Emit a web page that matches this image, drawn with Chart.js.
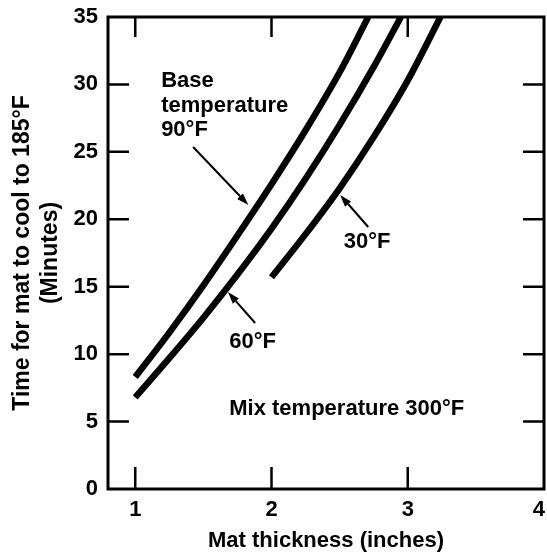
<!DOCTYPE html>
<html>
<head>
<meta charset="utf-8">
<script src="https://cdn.jsdelivr.net/npm/chart.js@4.4.1/dist/chart.umd.min.js"></script>
<style>
  html, body { margin: 0; padding: 0; background: #ffffff; }
  #wrap { width: 547px; height: 560px; position: relative; }
</style>
</head>
<body>
<div id="wrap"><canvas id="chart"></canvas></div>
<script>
// Axis tick values
const thicknessTicks = [1, 2, 3, 4];
const minuteTicks = [0, 5, 10, 15, 20, 25, 30, 35];

// Cooling time curves for a 300°F mix, one per base temperature
const base90Thickness = [1.0, 1.25, 1.5, 1.75, 2.0, 2.25, 2.5, 2.71];
const base90Minutes   = [8.3, 11.6, 15.1, 18.8, 22.6, 26.6, 30.9, 35.0];

const base60Thickness = [1.0, 1.25, 1.5, 1.75, 2.0, 2.25, 2.5, 2.75, 2.95];
const base60Minutes   = [6.8, 9.7, 12.7, 15.9, 19.3, 23.0, 27.0, 31.3, 35.0];

const base30Thickness = [2.0, 2.25, 2.5, 2.75, 3.0, 3.24];
const base30Minutes   = [15.7, 18.9, 22.3, 26.1, 30.3, 35.0];

const FAMILY = '"Liberation Sans", Arial, sans-serif';
const FONT = { family: FAMILY, size: 22, weight: 'bold' };
const TITLE_FONT = { family: FAMILY, size: 23, weight: 'bold' };
const INK = '#000000';

function pairs(xs, ys) {
  return xs.map((x, i) => ({ x: x, y: ys[i] }));
}

function curve(xs, ys) {
  return {
    data: pairs(xs, ys),
    borderColor: INK,
    borderWidth: 6.5,
    borderCapStyle: 'butt',
    pointRadius: 0,
    cubicInterpolationMode: 'monotone',
    fill: false
  };
}

// Text labels and pointer arrows, anchored in data units
const notes = [
  { lines: ['Base', 'temperature', '90°F'], at: [1.19, 29.8] },
  { lines: ['30°F'], at: [2.53, 17.87] },
  { lines: ['60°F'], at: [1.69, 10.46] },
  { lines: ['Mix temperature 300°F'], at: [1.69, 5.49] }
];
const arrows = [
  { from: [1.425, 25.36], to: [1.83, 21.06] },
  { from: [2.71, 19.43], to: [2.504, 21.8] },
  { from: [1.88, 12.31], to: [1.68, 14.6] }
];

const framePlugin = {
  id: 'frameAndNotes',
  beforeDraw(chart) {
    // keep the last thickness label inside the canvas
    const items = chart.scales.x.getLabelItems(chart.chartArea);
    const last = items[items.length - 1];
    if (last) {
      last.options.textAlign = 'right';
      last.options.translation[0] += 1;
    }
  },
  afterDatasetsDraw(chart) {
    const { ctx, chartArea: a, scales: { x, y } } = chart;
    ctx.save();
    ctx.strokeStyle = INK;
    ctx.fillStyle = INK;

    // plot frame
    ctx.lineWidth = 3;
    ctx.strokeRect(a.left, a.top, a.right - a.left, a.bottom - a.top);

    // inward tick marks on all four sides
    ctx.lineWidth = 2.5;
    ctx.beginPath();
    minuteTicks.filter(v => v > y.min && v < y.max).forEach(v => {
      const py = y.getPixelForValue(v);
      ctx.moveTo(a.left, py); ctx.lineTo(a.left + 21, py);
      ctx.moveTo(a.right - 21, py); ctx.lineTo(a.right, py);
    });
    thicknessTicks.filter(v => v > x.min && v < x.max).forEach(v => {
      const px = x.getPixelForValue(v);
      ctx.moveTo(px, a.top); ctx.lineTo(px, a.top + 20);
      ctx.moveTo(px, a.bottom - 22); ctx.lineTo(px, a.bottom);
    });
    ctx.stroke();

    // labels
    ctx.font = `${FONT.weight} ${FONT.size}px ${FONT.family}`;
    ctx.textAlign = 'left';
    ctx.textBaseline = 'alphabetic';
    notes.forEach(n => {
      const px = x.getPixelForValue(n.at[0]);
      const py = y.getPixelForValue(n.at[1]);
      n.lines.forEach((t, i) => ctx.fillText(t, px, py + i * 24.5));
    });

    // arrows
    arrows.forEach(ar => {
      const x0 = x.getPixelForValue(ar.from[0]), y0 = y.getPixelForValue(ar.from[1]);
      const x1 = x.getPixelForValue(ar.to[0]),   y1 = y.getPixelForValue(ar.to[1]);
      const ang = Math.atan2(y1 - y0, x1 - x0);
      const head = 12, half = 4;
      const bx = x1 - head * Math.cos(ang), by = y1 - head * Math.sin(ang);
      ctx.lineWidth = 2;
      ctx.beginPath();
      ctx.moveTo(x0, y0); ctx.lineTo(bx, by);
      ctx.stroke();
      ctx.beginPath();
      ctx.moveTo(x1, y1);
      ctx.lineTo(bx + half * Math.sin(ang), by - half * Math.cos(ang));
      ctx.lineTo(bx - half * Math.sin(ang), by + half * Math.cos(ang));
      ctx.closePath();
      ctx.fill();
    });
    ctx.restore();
  }
};

new Chart(document.getElementById('chart'), {
  type: 'line',
  data: {
    datasets: [
      curve(base90Thickness, base90Minutes),
      curve(base60Thickness, base60Minutes),
      curve(base30Thickness, base30Minutes)
    ]
  },
  options: {
    responsive: true,
    maintainAspectRatio: false,
    animation: false,
    layout: { padding: { top: 17, right: 3, left: 0, bottom: 0 } },
    plugins: { legend: { display: false }, tooltip: { enabled: false } },
    scales: {
      x: {
        type: 'linear',
        min: 0.8,
        max: 4,
        afterBuildTicks: s => { s.ticks = thicknessTicks.map(v => ({ value: v })); },
        afterFit: s => { s.height = 71; s.paddingLeft = 0; s.paddingRight = 0; },
        grid: { display: false, drawTicks: false },
        border: { display: false },
        ticks: { font: FONT, color: INK, padding: 8, maxRotation: 0 },
        title: {
          display: true,
          text: 'Mat thickness (inches)',
          font: FONT,
          color: INK,
          padding: { top: 0, bottom: 6 }
        }
      },
      y: {
        type: 'linear',
        min: 0,
        max: 35,
        afterBuildTicks: s => { s.ticks = minuteTicks.map(v => ({ value: v })); },
        afterFit: s => { s.width = 108; s.paddingTop = 0; s.paddingBottom = 0; },
        grid: { display: false, drawTicks: false },
        border: { display: false },
        ticks: { font: FONT, color: INK, padding: 10 },
        title: {
          display: true,
          text: ['Time for mat to cool to 185°F', '(Minutes)'],
          font: TITLE_FONT,
          color: INK,
          padding: { top: 9, bottom: 0 }
        }
      }
    }
  },
  plugins: [framePlugin]
});
</script>
</body>
</html>
